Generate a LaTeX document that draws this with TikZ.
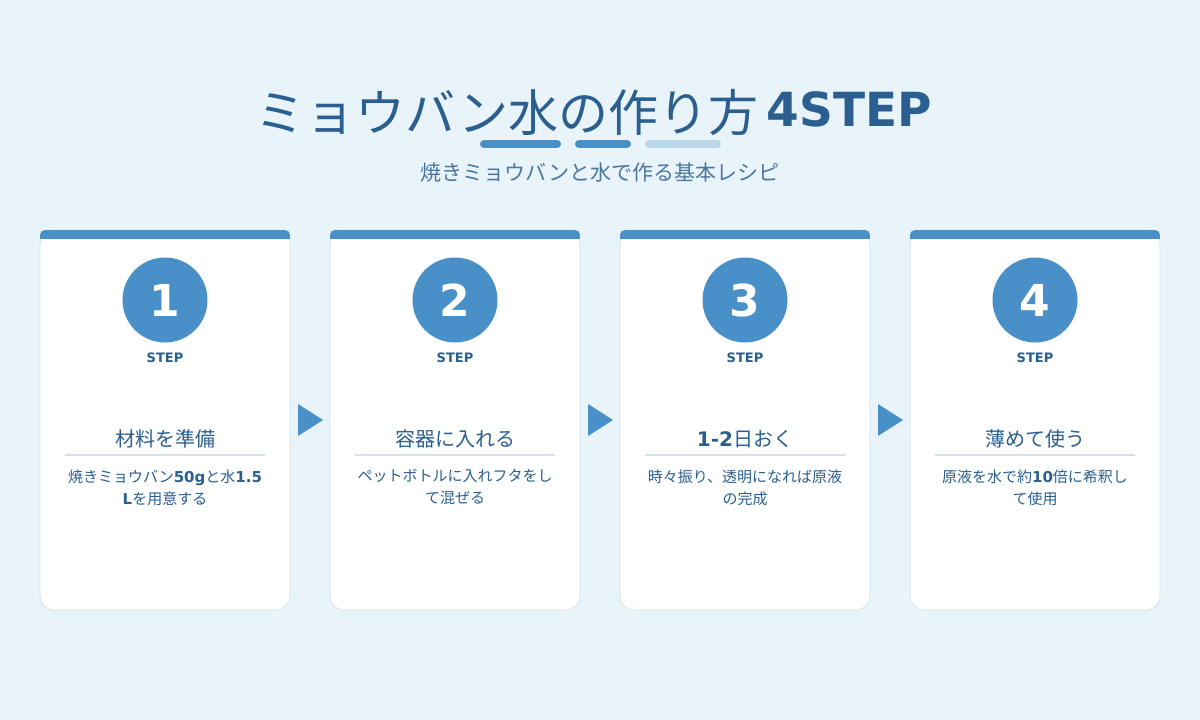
\documentclass[tikz,border=0pt]{standalone}
\usepackage{fontspec}
\setmainfont{Noto Sans CJK JP}
\newfontfamily\dv{DejaVu Sans}
\definecolor{bg}{HTML}{E8F3FA}
\definecolor{blu}{HTML}{4A90C8}
\definecolor{dk}{HTML}{2A5F8F}
\definecolor{lt}{HTML}{B8D8EA}
\definecolor{bd}{HTML}{CFE3F0}
\begin{document}
\begin{tikzpicture}[x=1pt,y=-1pt,
  card/.style={fill=white,draw=bd,line width=0.8pt,rounded corners=14pt},
  num/.style={circle,fill=blu,minimum size=85pt,inner sep=0pt,text=white,font=\dv\bfseries\fontsize{44}{44}\selectfont},
  stp/.style={text=dk,font=\dv\bfseries\fontsize{13}{13}\selectfont},
  ttl/.style={text=dk,font=\fontsize{20}{20}\selectfont},
  dsc/.style={text=dk,font=\fontsize{15}{22}\selectfont,align=center},
  arr/.style={fill=blu}]
\fill[bg] (0,0) rectangle (1200,720);
\useasboundingbox (0,0) rectangle (1200,720);
\node[text=dk,font=\fontsize{50}{50}\selectfont,anchor=base] (t) at (507,131) {ミョウバン水の作り方};
\node[text=dk,font=\dv\bfseries\fontsize{47}{47}\selectfont,anchor=base west] (t2) at (763,126) {4STEP};
\draw[blu,line width=8pt,line cap=round] (484,144) -- (557,144);
\draw[blu,line width=8pt,line cap=round] (579,144) -- (627,144);
\draw[lt,line width=8pt,line cap=round] (649,144) -- (717,144);
\node[text=dk!85,font=\fontsize{21}{21}\selectfont] (sub) at (600,173) {焼きミョウバンと水で作る基本レシピ};
\foreach \i/\n/\t/\d in {0/1/材料を準備/{焼きミョウバン{\dv\bfseries 50g}と水{\dv\bfseries 1.5}\\{\dv\bfseries L}を用意する},
 1/2/容器に入れる/{ペットボトルに入れフタをし\\て混ぜる},
 2/3/{{\dv\bfseries 1-2}日おく}/{時々振り、透明になれば原液\\の完成},
 3/4/薄めて使う/{原液を水で約{\dv\bfseries 10}倍に希釈し\\て使用}}{
  \pgfmathsetmacro\x{40+290*\i}
  \begin{scope}[xshift=\x]
  \path[card] (0,230) rectangle (250,610);
  \begin{scope}
   \clip[rounded corners=5pt] (0,230) rectangle (250,250);
   \fill[blu] (0,230) rectangle (250,239);
  \end{scope}
  \node[num] (n\n) at (125,300) {\n};
  \node[stp] (s\n) at (125,358) {STEP};
  \node[ttl] (h\n) at (125,439) {\t};
  \draw[bd,line width=1.2pt] (25,455) -- (225,455);
  \node[dsc,anchor=north] (d\n) at (125,466) {\d};
  \end{scope}}
\foreach \i in {0,1,2}{
  \pgfmathsetmacro\x{298+290*\i}
  \fill[arr,xshift=\x] (0,404) -- (25,420) -- (0,436) -- cycle;}
\end{tikzpicture}
\end{document}
